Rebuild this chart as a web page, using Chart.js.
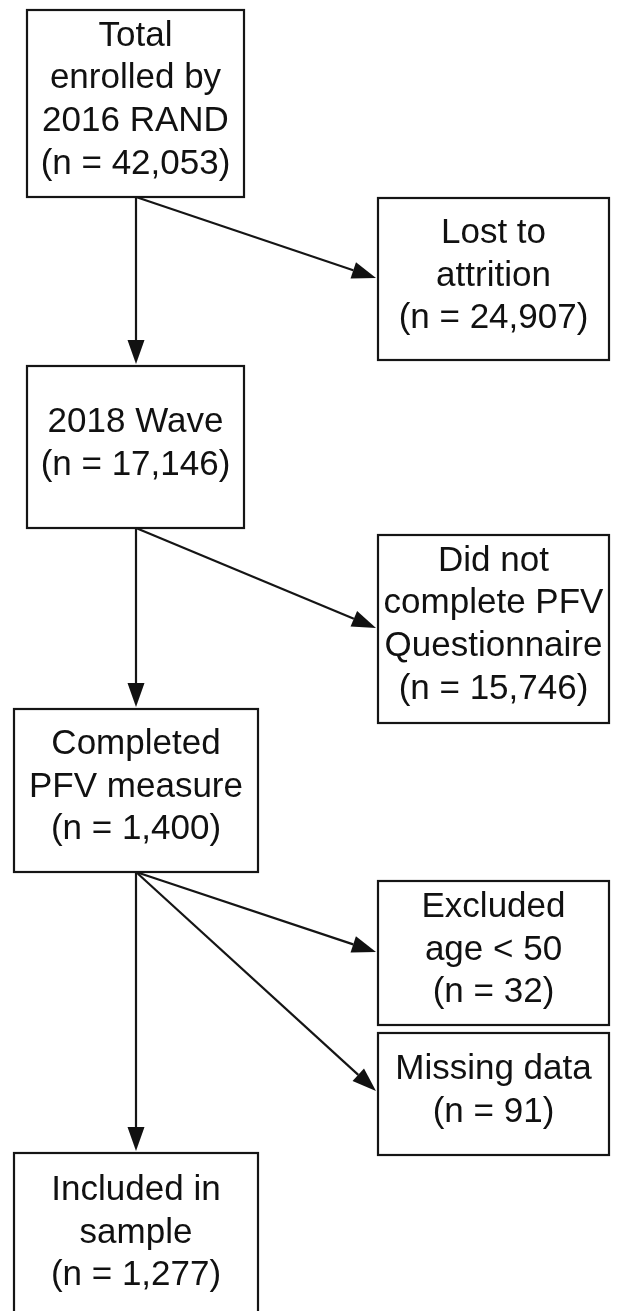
<!DOCTYPE html>
<html>
<head>
<meta charset="utf-8">
<script src="https://cdn.jsdelivr.net/npm/chart.js@4"></script>
<style>
  body { margin: 0; background: #fff; }
</style>
</head>
<body>
<canvas id="flowCanvas" width="620" height="1311"></canvas>
<script>
// flow steps and their counts
const stepLabels = [
    ["Total", "enrolled by", "2016 RAND"],
    ["Lost to", "attrition"],
    ["2018 Wave"],
    ["Did not", "complete PFV", "Questionnaire"],
    ["Completed", "PFV measure"],
    ["Excluded", "age < 50"],
    ["Missing data"],
    ["Included in", "sample"]
]
const stepCounts = [42053, 24907, 17146, 15746, 1400, 32, 91, 1277]

// which step leads to which
const linkFrom = [0, 0, 2, 2, 4, 4, 4]
const linkTo = [2, 1, 4, 3, 7, 5, 6]

// layout of the boxes, in the chart's own units (x0, x1, y0, y1, text centre y)
const boxLayout = [
    [27, 244, 10, 197, 100],
    [378, 609, 198, 360, 276],
    [27, 244, 366, 528, 444],
    [378, 609, 535, 723, 625],
    [14, 258, 709, 872, 787],
    [378, 609, 881, 1025, 950],
    [378, 609, 1033, 1155, 1091],
    [14, 258, 1153, 1330, 1233]
]
// arrow end points for each link (x, y) where the head touches
const linkTips = [
    [136, 364],
    [376, 278],
    [136, 707],
    [376, 628],
    [136, 1151],
    [376, 952],
    [376, 1091]
]

const fmt = n => "(n = " + n.toLocaleString("en-US") + ")"

const flowPlugin = {
    id: "flow",
    afterDraw(chart) {
        const ctx = chart.ctx
        const sx = chart.scales.x
        const sy = chart.scales.y
        const X = v => sx.getPixelForValue(v)
        const Y = v => sy.getPixelForValue(v)
        ctx.save()
        ctx.strokeStyle = "#151515"
        ctx.fillStyle = "#111"
        ctx.lineWidth = 2.2

        // boxes
        boxLayout.forEach((b, i) => {
            const x0 = X(b[0]), x1 = X(b[1]), y0 = Y(b[2]), y1 = Y(b[3])
            ctx.strokeRect(x0, y0, x1 - x0, y1 - y0)
            const lines = stepLabels[i].concat([fmt(stepCounts[i])])
            const cx = (x0 + x1) / 2
            const cy = Y(b[4])
            ctx.font = "35px 'Liberation Sans', Arial, sans-serif"
            ctx.textAlign = "center"
            ctx.textBaseline = "middle"
            lines.forEach((t, k) => {
                ctx.fillText(t, cx, cy + (k - (lines.length - 1) / 2) * 42.7)
            })
        })

        // arrows
        linkFrom.forEach((f, i) => {
            const b = boxLayout[f]
            const xs = X(136), ys = Y(b[3])
            const xe = X(linkTips[i][0]), ye = Y(linkTips[i][1])
            const ang = Math.atan2(ye - ys, xe - xs)
            const headLen = 24, headW = 8.5
            const bx = xe - headLen * Math.cos(ang), by = ye - headLen * Math.sin(ang)
            ctx.beginPath()
            ctx.moveTo(xs, ys)
            ctx.lineTo(bx, by)
            ctx.stroke()
            ctx.beginPath()
            ctx.moveTo(xe, ye)
            ctx.lineTo(bx + headW * Math.sin(ang), by - headW * Math.cos(ang))
            ctx.lineTo(bx - headW * Math.sin(ang), by + headW * Math.cos(ang))
            ctx.closePath()
            ctx.fill()
        })
        ctx.restore()
    }
}

const flowCanvas = document.getElementById("flowCanvas")

const flowChart = new Chart(flowCanvas, {
    type: "scatter",
    data: {
        datasets: [{
            data: [],
        }]
    },
    options: {
        responsive: false,
        animation: false,
        layout: { padding: 0 },
        plugins: {
            legend: { display: false },
            tooltip: { enabled: false }
        },
        scales: {
            x: { type: "linear", min: 0, max: 620, display: false },
            y: { type: "linear", min: 0, max: 1311, reverse: true, display: false }
        }
    },
    plugins: [flowPlugin]
})
</script>
</body>
</html>
